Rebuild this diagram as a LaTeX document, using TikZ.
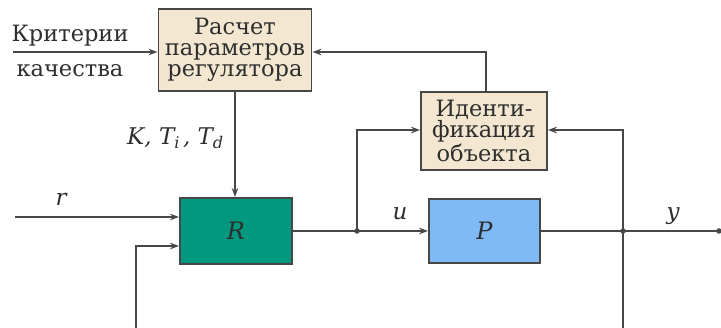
\documentclass[tikz,border=0pt]{standalone}
\usepackage{fontspec}
\setmainfont{DejaVu Serif}
\usetikzlibrary{arrows.meta}
\definecolor{beige}{HTML}{F3E7D1}
\definecolor{teal2}{HTML}{00997F}
\definecolor{pblue}{HTML}{80BAF6}
\definecolor{lin}{HTML}{474747}
\definecolor{txt}{HTML}{2E2E2E}
\tikzset{
  blk/.style={draw=lin, line width=1.9pt, inner sep=0pt, align=center, text=txt},
  conn/.style={draw=lin, line width=1.6pt},
  arr/.style={conn, -{Stealth[length=9pt,width=6.5pt]}},
  lbl/.style={text=txt, inner sep=0pt},
  dot/.style={circle, fill=lin, inner sep=0pt, minimum size=5.5pt},
  boxtext/.style={font=\fontsize{22.5}{21}\selectfont},
  lblfont/.style={font=\fontsize{22.5}{22}\selectfont},
  mathfont/.style={font=\fontsize{23}{23}\selectfont\itshape},
}
\begin{document}
\begin{tikzpicture}[x=1pt,y=-1pt]
\useasboundingbox (0,0) rectangle (721,328);
% blocks
\node[blk, fill=beige, minimum width=153pt, minimum height=82pt, boxtext] (calc) at (235,50) {Расчет\\параметров\\регулятора};
\node[blk, fill=beige, minimum width=126pt, minimum height=78pt, boxtext] (ident) at (484,131) {Иденти-\\фикация\\объекта};
\node[blk, fill=teal2, minimum width=112pt, minimum height=66pt, font=\fontsize{24}{24}\selectfont\itshape] (R) at (236,231) {R};
\node[blk, fill=pblue, minimum width=111pt, minimum height=64pt, font=\fontsize{24}{24}\selectfont\itshape] (P) at (484.5,231) {P};
% coordinates
\coordinate (crit) at (13,52);
\coordinate (rin) at (15,217);
\coordinate (fbl) at (136,328);
\coordinate (fblc) at (136,246);
\coordinate (uj0) at (357,231);
\coordinate (ujt) at (357,130);
\coordinate (yj0) at (623,231);
\coordinate (yjt) at (623,130);
\coordinate (ybot) at (623,328);
\coordinate (yend) at (719,231);
\coordinate (idt) at (486,52);
% connectors
\draw[arr] (crit) -- (calc.west |- crit);
\draw[arr] (ident.north -| idt) -- (idt) -- (calc.east |- idt);
\draw[arr] (calc.south) -- (R.north -| calc.south);
\draw[arr] (rin) -- (R.west |- rin);
\draw[arr] (fbl) -- (fblc) -- (R.west |- fblc);
\draw[conn] (R.east) -- (uj0);
\draw[arr] (uj0) -- (P.west);
\draw[arr] (uj0) -- (ujt) -- (ident.west |- ujt);
\draw[conn] (P.east) -- (yj0) -- (yend);
\draw[arr] (ybot) -- (yjt) -- (ident.east |- yjt);
\node[dot] (ud) at (uj0) {};
\node[dot] (yd) at (yj0) {};
\node[dot] (ed) at (yend) {};
% labels
\node[lbl, lblfont, anchor=base] (l1) at (70,42) {Критерии};
\node[lbl, lblfont, anchor=base] (l2) at (70,77) {качества};
\node[lbl, mathfont, anchor=base east] (kt) at (224,145) {K, T\textsubscript{i}\kern3pt, T\textsubscript{d}};
\node[lbl, mathfont, anchor=base] (rl) at (61,206) {r};
\node[lbl, mathfont, anchor=base] (ul) at (400,220) {u};
\node[lbl, mathfont, anchor=base] (yl) at (673,220) {y};
\end{tikzpicture}
\end{document}
